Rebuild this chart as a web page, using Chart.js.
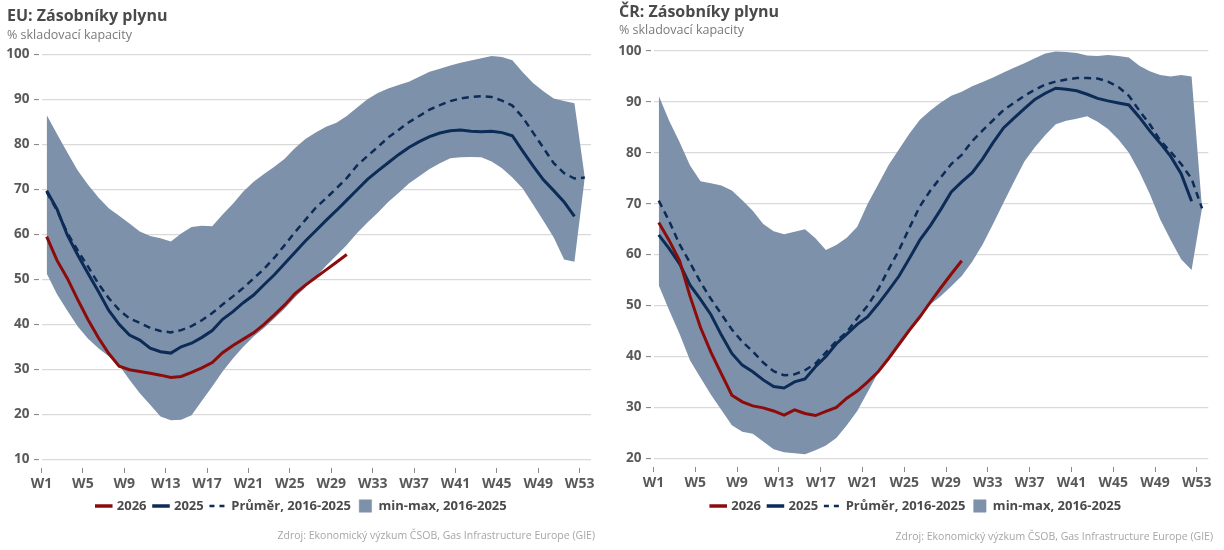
<!DOCTYPE html>
<html>
<head>
<meta charset="utf-8">
<script src="https://cdn.jsdelivr.net/npm/chart.js@4.4.1/dist/chart.umd.min.js"></script>
<style>
  body { margin: 0; background: #fff; font-family: "Open Sans", sans-serif; }
  .panel { position: absolute; top: 0; width: 612px; height: 550px; }
  .panel canvas { position: absolute; left: 0; top: 0; }
  .title { position: absolute; font-weight: 700; font-size: 16px; line-height: 20px; color: #4a4a4a; white-space: nowrap; }
  .sub { position: absolute; font-size: 12.5px; line-height: 16px; color: #7a7a7a; white-space: nowrap; }
  .src { position: absolute; font-size: 10.5px; line-height: 14px; color: #a6a6a6; white-space: nowrap; }
</style>
</head>
<body>
<div class="panel" style="left:0">
  <canvas id="eu" width="612" height="550"></canvas>
  <div class="title" style="left:7px;top:5px">EU: Zásobníky plynu</div>
  <div class="sub" style="left:7px;top:27px">% skladovací kapacity</div>
  <div class="src" style="right:17px;top:528px">Zdroj: Ekonomický výzkum ČSOB, Gas Infrastructure Europe (GIE)</div>
</div>
<div class="panel" style="left:612px">
  <canvas id="cr" width="612" height="550"></canvas>
  <div class="title" style="left:7px;top:1px">ČR: Zásobníky plynu</div>
  <div class="sub" style="left:7px;top:22px">% skladovací kapacity</div>
  <div class="src" style="right:11px;top:529px">Zdroj: Ekonomický výzkum ČSOB, Gas Infrastructure Europe (GIE)</div>
</div>
<script>
(function(){
    // tydny W1..W53
    const weeks = [1,2,3,4,5,6,7,8,9,10,11,12,13,14,15,16,17,18,19,20,21,22,23,24,25,26,27,
        28,29,30,31,32,33,34,35,36,37,38,39,40,41,42,43,44,45,46,47,48,49,50,51,52,53];
    const tickWeeks = [1,5,9,13,17,21,25,29,33,37,41,45,49,53];
    const tickLabels = ["W1","W5","W9","W13","W17","W21","W25","W29","W33","W37","W41","W45","W49","W53"];
    const seriesNames = ["2026", "2025", "Průměr, 2016-2025", "min-max, 2016-2025"];

    // EU
    const eu2026 = [59.5,54.2,50.2,45.5,41.0,37.0,33.5,30.7,29.9,29.5,29.1,28.7,28.2,28.4,29.3,30.3,31.5,33.7,35.3,36.7,
        38.1,40.0,42.1,44.3,46.8,48.7,50.4,52.1,53.8,55.5];
    const eu2025 = [69.7,65.6,59.8,55.4,51.3,47.3,43.1,40.0,37.6,36.5,34.7,33.9,33.6,35.0,35.8,37.1,38.6,41.1,42.8,44.8,
        46.5,48.8,51.0,53.5,56.0,58.5,60.8,63.1,65.3,67.6,69.9,72.2,74.1,75.9,77.7,79.3,80.6,81.7,82.5,83.0,
        83.2,82.9,82.8,82.9,82.6,81.9,78.5,75.2,72.1,69.7,67.2,64.0];
    const euAvg = [69.4,65.3,60.3,56.4,52.8,49.0,45.8,43.2,41.3,40.3,39.2,38.5,38.2,38.7,39.6,40.9,42.5,44.4,46.2,48.1,
        50.2,52.3,54.8,57.6,60.5,63.2,65.9,68.0,70.2,72.5,75.3,77.4,79.4,81.5,83.2,84.9,86.3,87.7,88.7,89.6,
        90.2,90.5,90.7,90.5,89.7,88.6,86.0,82.6,79.2,75.8,73.6,72.4,72.6];
    const euMax = [86.5,82.3,78.2,74.2,71.0,68.2,65.8,64.1,62.4,60.6,59.6,59.1,58.4,60.2,61.6,61.9,61.8,64.4,66.8,69.5,
        71.7,73.4,75.0,76.8,79.2,81.2,82.6,83.9,84.8,86.3,88.2,90.0,91.4,92.4,93.2,93.9,95.0,96.1,96.8,97.5,
        98.1,98.6,99.1,99.6,99.4,98.7,96.0,93.6,91.8,90.2,89.6,89.1,72.6];
    const euMin = [51.3,46.7,43.0,39.5,36.8,34.7,32.9,30.9,27.7,24.7,22.1,19.5,18.7,18.8,19.8,23.0,26.2,29.5,32.4,35.0,
        37.3,39.2,41.3,43.5,46.0,48.2,50.5,53.0,55.3,57.6,60.3,62.6,64.8,67.2,69.2,71.3,72.9,74.5,75.8,76.9,
        77.1,77.2,77.1,76.2,74.7,72.6,70.2,66.6,63.0,59.3,54.4,53.9,72.6];

    // CR
    const cr2026 = [66.3,62.8,58.8,51.8,45.7,40.8,36.6,32.4,31.1,30.3,29.9,29.3,28.5,29.5,28.8,28.4,29.2,30.0,31.8,33.2,
        35.0,37.0,39.6,42.4,45.2,47.8,50.7,53.5,56.2,58.8];
    const cr2025 = [63.9,61.2,58.2,54.0,51.2,48.2,44.2,40.6,38.3,37.0,35.4,34.1,33.8,35.0,35.6,38.0,40.0,42.5,44.4,46.3,
        47.8,50.3,53.0,55.8,59.3,62.9,65.7,68.9,72.3,74.3,76.1,78.8,82.0,84.9,86.8,88.7,90.5,91.7,92.7,92.5,
        92.2,91.5,90.7,90.2,89.8,89.4,87.0,84.3,81.9,79.3,75.9,70.5];
    const crAvg = [70.6,66.6,62.0,58.4,54.6,51.3,48.3,45.3,42.9,41.0,38.8,37.1,36.3,36.5,37.3,38.6,40.8,43.0,44.8,47.5,
        50.0,53.2,57.1,60.9,65.3,69.5,72.6,75.2,77.8,79.6,82.3,84.4,86.4,88.4,89.8,91.2,92.4,93.4,94.0,94.4,
        94.7,94.7,94.6,94.0,92.9,91.2,88.3,85.6,82.4,80.2,77.8,74.9,69.1];
    const crMax = [91.2,86.3,82.1,77.5,74.4,74.0,73.6,72.6,70.7,68.6,66.0,64.6,64.0,64.5,65.0,63.2,60.9,61.9,63.3,65.5,
        70.0,73.8,77.6,80.7,83.8,86.5,88.3,89.9,91.2,92.0,93.1,93.9,94.8,95.8,96.7,97.6,98.6,99.5,99.9,99.8,
        99.6,99.1,99.0,99.2,99.0,98.7,97.1,96.0,95.3,95.0,95.3,95.0,69.1];
    const crMin = [54.0,49.1,44.4,39.2,35.8,32.5,29.5,26.5,25.2,24.8,23.3,21.8,21.2,21.0,20.8,21.6,22.5,24.0,26.5,29.3,
        33.0,36.8,39.3,42.2,44.9,47.5,50.2,51.9,53.8,55.8,58.6,62.0,66.0,70.2,74.3,78.3,81.1,83.5,85.6,86.3,
        86.7,87.2,86.1,84.7,82.6,80.0,76.3,71.9,66.9,62.9,59.1,57.0,69.1];

    const RED = "#8c0b0b";
    const NAVY = "#0c2b56";
    const BAND = "#7e91ab";
    const TEXT = "#595959";

    Chart.defaults.font.family = "'Open Sans', sans-serif";

    const pts = vals => vals.map((v, i) => ({ x: weeks[i], y: v }));

    const legendItems = [
        { text: seriesNames[0], pointStyle: "line", strokeStyle: RED, fillStyle: RED, lineWidth: 3.5 },
        { text: seriesNames[1], pointStyle: "line", strokeStyle: NAVY, fillStyle: NAVY, lineWidth: 3.5 },
        { text: seriesNames[2], pointStyle: "line", strokeStyle: NAVY, fillStyle: NAVY, lineWidth: 2.5, lineDash: [5, 5] },
        { text: seriesNames[3], pointStyle: "rect", strokeStyle: BAND, fillStyle: BAND, lineWidth: 0.5 }
    ];

    // posun legendy do stredu jako v originale
    const legendShift = {
        id: "legendShift",
        afterLayout(chart, args, opts) {
            if (chart.legend) {
                chart.legend.left += opts.dx;
                chart.legend.right += opts.dx;
            }
        }
    };

    function makeChart(id, s) {
        return new Chart(document.getElementById(id), {
            type: "line",
            data: {
                datasets: [
                    { label: seriesNames[0], data: pts(s.y2026), borderColor: RED, borderWidth: 3, pointRadius: 0, fill: false },
                    { label: seriesNames[1], data: pts(s.y2025), borderColor: NAVY, borderWidth: 3, pointRadius: 0, fill: false },
                    { label: seriesNames[2], data: pts(s.avg), borderColor: NAVY, borderWidth: 2.5, borderDash: [7, 5], pointRadius: 0, fill: false },
                    { label: seriesNames[3], data: pts(s.max), borderColor: "rgba(0,0,0,0)", backgroundColor: BAND, pointRadius: 0, fill: "+1" },
                    { label: "min", data: pts(s.min), borderColor: "rgba(0,0,0,0)", pointRadius: 0, fill: false }
                ]
            },
            plugins: [legendShift],
            options: {
                responsive: false,
                animation: false,
                events: [],
                layout: { padding: s.pad },
                plugins: {
                    tooltip: { enabled: false },
                    legendShift: { dx: s.legendDx },
                    legend: {
                        position: "bottom",
                        labels: {
                            usePointStyle: true,
                            boxHeight: 12.4,
                            padding: 8,
                            color: "#4a4a4a",
                            font: { size: 13, weight: "bold" },
                            generateLabels: () => legendItems.map(it => Object.assign({ fontColor: "#4a4a4a" }, it))
                        }
                    }
                },
                scales: {
                    x: {
                        type: "linear",
                        min: 0.5,
                        max: 53.6,
                        afterBuildTicks: sc => { sc.ticks = tickWeeks.map(w => ({ value: w - 0.5 })); },
                        afterFit: sc => { sc.height = s.xHeight; },
                        ticks: {
                            autoSkip: false, maxRotation: 0, padding: 2,
                            color: TEXT, font: { size: 14, weight: "bold" },
                            callback: (v, i) => tickLabels[i]
                        },
                        grid: { drawOnChartArea: false, tickLength: 14, tickColor: "#8a8a8a", tickWidth: 1, tickBorderDash: [0, 9, 5, 20] },
                        border: { display: false }
                    },
                    y: {
                        min: s.yMin,
                        max: 100,
                        afterFit: sc => { sc.width = 41.5; },
                        ticks: { stepSize: 10, padding: 4.5, color: TEXT, font: { size: 13.5, weight: "bold" } },
                        grid: { color: "#d9d9d9", lineWidth: 1.2, tickLength: 7.5, tickColor: "#7f7f7f", tickWidth: 1, tickBorderDash: [5, 10] },
                        border: { display: false }
                    }
                }
            }
        });
    }

    makeChart("eu", {
        y2026: eu2026, y2025: eu2025, avg: euAvg, max: euMax, min: euMin,
        yMin: 10, xHeight: 32.2, legendDx: 6.5,
        pad: { top: 54.3, left: 0, right: 21, bottom: 27.5 }
    });
    makeChart("cr", {
        y2026: cr2026, y2025: cr2025, avg: crAvg, max: crMax, min: crMin,
        yMin: 20, xHeight: 33.2, legendDx: 6.3,
        pad: { top: 51, left: 0, right: 15.7, bottom: 27.5 }
    });
})()
</script>
</body>
</html>
